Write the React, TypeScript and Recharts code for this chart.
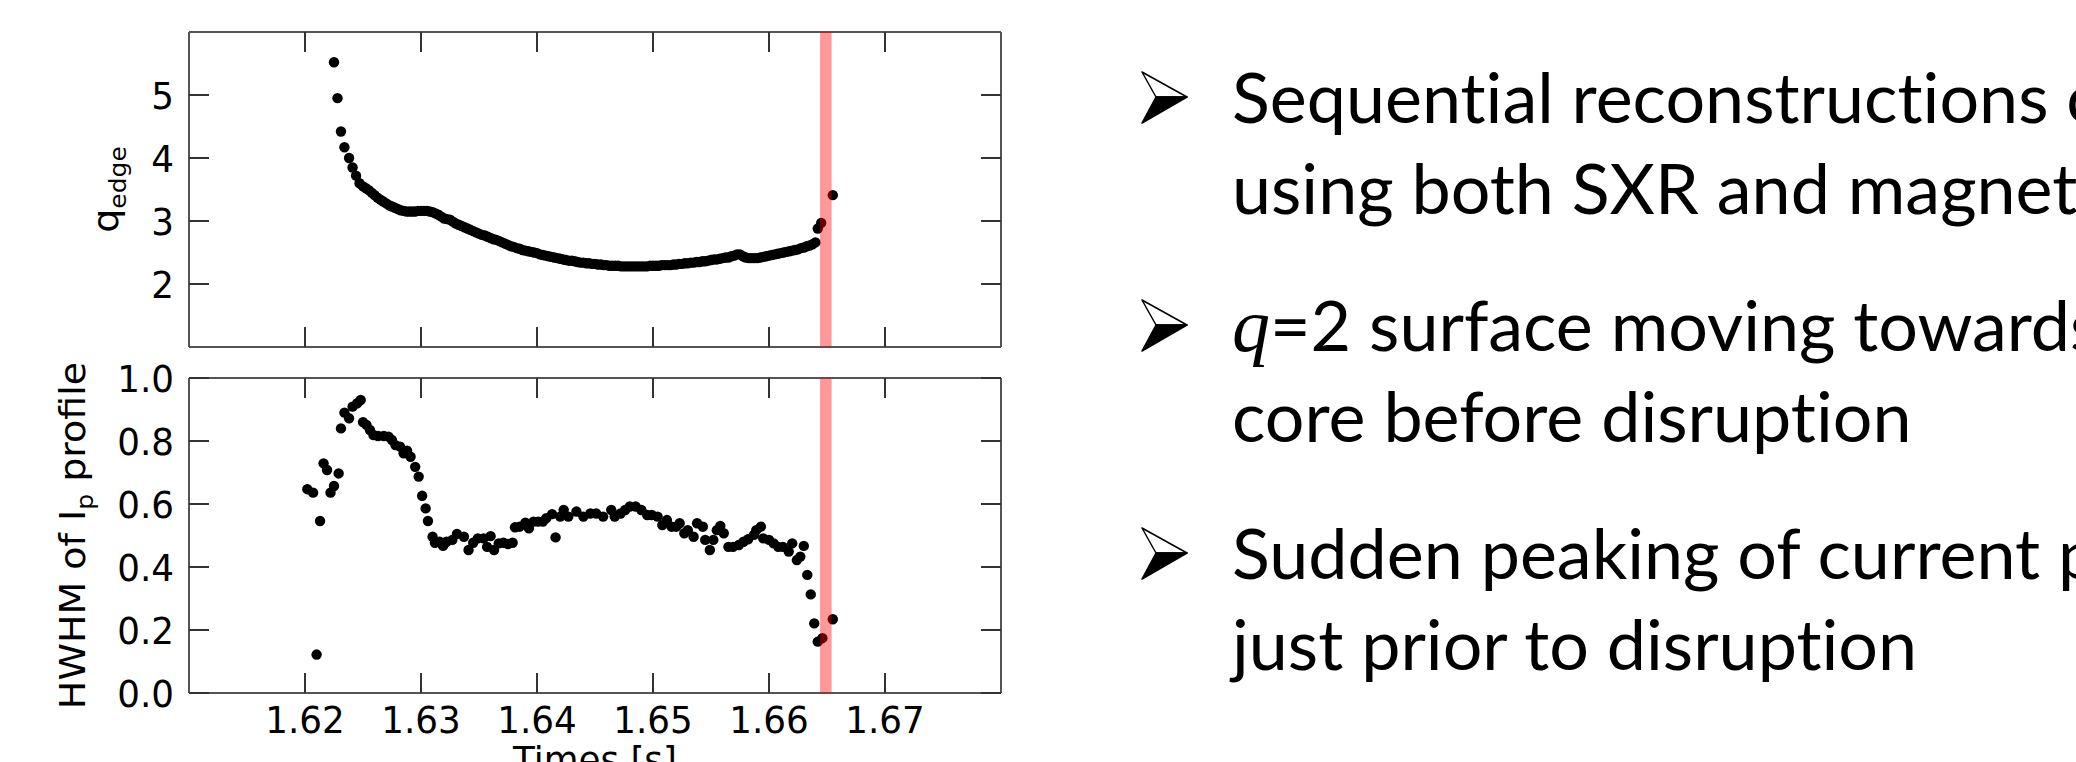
import { ScatterChart, Scatter, XAxis, YAxis, ReferenceArea } from 'recharts'

// time axis and tick values
const timeDomain = [1.61, 1.68]
const timeTicks = [1.62, 1.63, 1.64, 1.65, 1.66, 1.67]
const qTicks = [2, 3, 4, 5]
const hwhmTicks = [0, 0.2, 0.4, 0.6, 0.8, 1.0]
const disruptionWindow = [1.6644, 1.6654]

// q_edge from sequential reconstructions
const qTimes = [
  1.6225, 1.6228, 1.6231, 1.6234, 1.6238, 1.6241, 1.6244, 1.6247,
  1.625, 1.62525, 1.6255, 1.62575, 1.626, 1.62625, 1.6265, 1.62675, 1.627, 1.62725,
  1.6275, 1.62775, 1.628, 1.62825, 1.6285, 1.62875, 1.629, 1.62925, 1.6295, 1.62975,
  1.63, 1.63025, 1.6305, 1.63075, 1.631, 1.63125, 1.6315, 1.63175, 1.632, 1.63225,
  1.6325, 1.63275, 1.633, 1.63325, 1.6335, 1.63375, 1.634, 1.63425, 1.6345, 1.63475,
  1.635, 1.63525, 1.6355, 1.63575, 1.636, 1.63625, 1.6365, 1.63675, 1.637, 1.63725,
  1.6375, 1.63775, 1.638, 1.63825, 1.6385, 1.63875, 1.639, 1.63925, 1.6395, 1.63975,
  1.64, 1.64025, 1.6405, 1.64075, 1.641, 1.64125, 1.6415, 1.64175, 1.642, 1.64225,
  1.6425, 1.64275, 1.643, 1.64325, 1.6435, 1.64375, 1.644, 1.64425, 1.6445, 1.64475,
  1.645, 1.64525, 1.6455, 1.64575, 1.646, 1.64625, 1.6465, 1.64675, 1.647, 1.64725,
  1.6475, 1.64775, 1.648, 1.64825, 1.6485, 1.64875, 1.649, 1.64925, 1.6495, 1.64975,
  1.65, 1.65025, 1.6505, 1.65075, 1.651, 1.65125, 1.6515, 1.65175, 1.652, 1.65225,
  1.6525, 1.65275, 1.653, 1.65325, 1.6535, 1.65375, 1.654, 1.65425, 1.6545, 1.65475,
  1.655, 1.65525, 1.6555, 1.65575, 1.656, 1.65625, 1.6565, 1.65675, 1.657, 1.65725,
  1.6575, 1.65775, 1.658, 1.65825, 1.6585, 1.65875, 1.659, 1.65925, 1.6595, 1.65975,
  1.66, 1.66025, 1.6605, 1.66075, 1.661, 1.66125, 1.6615, 1.66175, 1.662, 1.66225,
  1.6625, 1.66275, 1.663, 1.66325, 1.6635, 1.66375, 1.664,
  1.6642, 1.6645, 1.6655,
]
const qValues = [
  5.52, 4.95, 4.42, 4.17, 4.0, 3.85, 3.72, 3.6,
  3.55, 3.52, 3.49, 3.45, 3.41, 3.37, 3.34, 3.31, 3.28, 3.25,
  3.23, 3.21, 3.19, 3.17, 3.16, 3.15, 3.15, 3.15, 3.15, 3.16,
  3.16, 3.16, 3.16, 3.15, 3.14, 3.12, 3.1, 3.07, 3.04, 3.03,
  3.02, 2.99, 2.96, 2.94, 2.92, 2.9, 2.88, 2.86, 2.84, 2.82,
  2.8, 2.78, 2.77, 2.75, 2.73, 2.71, 2.7, 2.68, 2.66, 2.64,
  2.62, 2.6, 2.59, 2.57, 2.56, 2.54, 2.53, 2.52, 2.51, 2.5,
  2.49, 2.47, 2.46, 2.45, 2.44, 2.43, 2.42, 2.41, 2.4, 2.39,
  2.38, 2.37, 2.37, 2.36, 2.35, 2.34, 2.34, 2.33, 2.33, 2.32,
  2.32, 2.31, 2.31, 2.3, 2.3, 2.29, 2.29, 2.29, 2.29, 2.28,
  2.28, 2.28, 2.28, 2.28, 2.28, 2.28, 2.28, 2.28, 2.28, 2.29,
  2.29, 2.29, 2.29, 2.3, 2.3, 2.3, 2.3, 2.31, 2.31, 2.32,
  2.32, 2.33, 2.33, 2.34, 2.34, 2.35, 2.35, 2.36, 2.36, 2.37,
  2.38, 2.39, 2.39, 2.4, 2.41, 2.42, 2.42, 2.44, 2.45, 2.47,
  2.47, 2.44, 2.42, 2.41, 2.41, 2.41, 2.41, 2.42, 2.43, 2.44,
  2.45, 2.46, 2.47, 2.48, 2.49, 2.5, 2.51, 2.52, 2.53, 2.54,
  2.55, 2.57, 2.58, 2.6, 2.61, 2.63, 2.66,
  2.88, 2.97, 3.41,
]

// half width at half maximum of the current profile
const hwhmTimes = [
  1.6202, 1.6207, 1.621, 1.6213, 1.6216, 1.6219, 1.6222, 1.6225, 1.6229, 1.6231,
  1.6234, 1.6238, 1.6241, 1.6245, 1.6248, 1.625, 1.6253, 1.6256, 1.6259, 1.6263,
  1.6268, 1.6272, 1.6275, 1.6278, 1.6282, 1.6285, 1.6288, 1.6291, 1.6295, 1.6298,
  1.6301, 1.6304, 1.6306, 1.631, 1.6312, 1.6316, 1.6319, 1.6322, 1.6327, 1.6331,
  1.6337, 1.6341, 1.6345, 1.6349, 1.6354, 1.6357, 1.636, 1.6363, 1.6367, 1.6371,
  1.6375, 1.6379, 1.6381, 1.6385, 1.639, 1.6393, 1.6397, 1.6401, 1.6405, 1.6408,
  1.6413, 1.6416, 1.642, 1.6423, 1.6427, 1.6434, 1.644, 1.6446, 1.6451, 1.6457,
  1.6464, 1.6467, 1.6472, 1.6476, 1.648, 1.6485, 1.649, 1.6495, 1.6499, 1.6504,
  1.6508, 1.6512, 1.6516, 1.652, 1.6523, 1.6527, 1.653, 1.6535, 1.6538, 1.6543,
  1.6545, 1.6549, 1.6552, 1.6555, 1.6558, 1.6561, 1.6565, 1.6569, 1.6574, 1.6578,
  1.6582, 1.6587, 1.6589, 1.6593, 1.6595, 1.66, 1.6604, 1.6608, 1.6612, 1.6617,
  1.662, 1.6624, 1.6627, 1.663, 1.6633, 1.6636, 1.6639, 1.6642, 1.6646, 1.6655,
]
const hwhmValues = [
  0.647, 0.636, 0.122, 0.546, 0.729, 0.708, 0.636, 0.657, 0.697, 0.84,
  0.89, 0.872, 0.909, 0.92, 0.93, 0.86, 0.851, 0.835, 0.819, 0.816,
  0.816, 0.814, 0.803, 0.787, 0.782, 0.761, 0.769, 0.75, 0.718, 0.687,
  0.626, 0.586, 0.546, 0.496, 0.477, 0.48, 0.467, 0.48, 0.486, 0.505,
  0.496, 0.454, 0.477, 0.491, 0.491, 0.464, 0.498, 0.454, 0.475, 0.477,
  0.473, 0.477, 0.526, 0.528, 0.541, 0.523, 0.544, 0.544, 0.544, 0.555,
  0.568, 0.494, 0.56, 0.581, 0.56, 0.576, 0.56, 0.57, 0.57, 0.56,
  0.581, 0.56, 0.57, 0.581, 0.592, 0.592, 0.581, 0.565, 0.565, 0.56,
  0.533, 0.549, 0.528, 0.528, 0.539, 0.507, 0.517, 0.496, 0.539, 0.528,
  0.486, 0.454, 0.486, 0.517, 0.53, 0.507, 0.464, 0.464, 0.47, 0.48,
  0.488, 0.502, 0.517, 0.528, 0.491, 0.486, 0.475, 0.464, 0.464, 0.449,
  0.475, 0.422, 0.433, 0.467, 0.375, 0.313, 0.221, 0.163, 0.174, 0.234,
]

const bulletLines = [
  ['Sequential reconstructions o', 'using both SXR and magneti'],
  ['q=2 surface moving towards', 'core before disruption'],
  ['Sudden peaking of current p', 'just prior to disruption'],
]

const qData = qTimes.map((t, i) => ({ t, v: qValues[i] }))
const hwhmData = hwhmTimes.map((t, i) => ({ t, v: hwhmValues[i] }))

const FONT = 'DejaVu Sans'
const SQUEEZE = 0.94
const axisStyle = { stroke: '#555', strokeWidth: 2 }
const tickStyle = { stroke: '#333', strokeWidth: 2 }

const noTick = () => <g />

const XTick = (props: any) => (
  <text
    transform={`translate(${props.x},${props.y}) scale(${SQUEEZE},1)`}
    textAnchor="middle"
    fontFamily={FONT}
    fontSize={38}
    fill="#000"
  >
    {Number(props.payload.value).toFixed(2)}
  </text>
)

const makeYTick = (digits: number) => (props: any) => (
  <text
    transform={`translate(${props.x},${props.y + 14}) scale(${SQUEEZE},1)`}
    textAnchor="end"
    fontFamily={FONT}
    fontSize={38}
    fill="#000"
  >
    {Number(props.payload.value).toFixed(digits)}
  </text>
)

const qLabel = (props: any) => {
  const vb = props.viewBox || { y: 32, height: 315 }
  const cy = vb.y + vb.height / 2
  return (
    <text transform={`translate(118,${cy}) scale(${SQUEEZE},1) rotate(-90)`} textAnchor="middle" fontFamily={FONT} fontSize={38} fill="#000">
      q<tspan fontSize={25} dy={8}>edge</tspan>
    </text>
  )
}

const hwhmLabel = (props: any) => {
  const vb = props.viewBox || { y: 32, height: 315 }
  const cy = vb.y + vb.height / 2
  return (
    <text transform={`translate(85,${cy}) scale(${SQUEEZE},1) rotate(-90)`} textAnchor="middle" fontFamily={FONT} fontSize={38} fill="#000">
      HWHM of I<tspan fontSize={25} dy={8}>p</tspan>
      <tspan dy={-8}> profile</tspan>
    </text>
  )
}

const timeLabel = (props: any) => {
  const vb = props.viewBox || { x: 189, y: 347, width: 812 }
  return (
    <text transform={`translate(${vb.x + vb.width / 2},${vb.y + 80}) scale(${SQUEEZE},1)`} textAnchor="middle" fontFamily={FONT} fontSize={38} fill="#000">
      Times [s]
    </text>
  )
}

const Dot = (props: any) => <circle cx={props.cx} cy={props.cy} r={5.2} fill="#000" />

function Arrow({ y }: { y: number }) {
  return (
    <g>
      <polygon points={`1142,${y - 51} 1187,${y - 26} 1156,${y - 26}`} fill="#fff" stroke="#000" strokeWidth={1.5} strokeLinejoin="round" />
      <polygon points={`1156,${y - 26} 1187,${y - 26} 1142,${y}`} fill="#000" stroke="#000" strokeWidth={1.5} strokeLinejoin="round" />
    </g>
  )
}

function BulletText() {
  return (
    <svg width={2076} height={762} style={{ position: 'absolute', left: 0, top: 0 }}>
      {bulletLines.map((lines, b) => {
        const base = 123 + b * 228
        return (
          <g key={b}>
            <Arrow y={base} />
            {lines.map((line, i) => (
              <text
                key={i}
                x={1232}
                y={base + i * 91}
                fontFamily="Lato"
                fontSize={70}
                fill="#000"
                style={{ fontVariantLigatures: 'none', fontFeatureSettings: '"liga" 0, "clig" 0' }}
              >
                {line.startsWith('q=') ? (
                  <>
                    <tspan fontFamily="Liberation Serif" fontStyle="italic" fontSize={76}>q</tspan>
                    {line.slice(1)}
                  </>
                ) : (
                  line
                )}
              </text>
            ))}
          </g>
        )
      })}
    </svg>
  )
}

export default function App() {
  return (
    <div style={{ position: 'absolute', left: 0, top: 0, width: 2076, height: 762, overflow: 'hidden', background: '#fff' }}>
      <div style={{ position: 'absolute', left: 0, top: 0 }}>
        <ScatterChart width={1020} height={362} margin={{ top: 31, right: 18, bottom: 0, left: 0 }}>
          <XAxis xAxisId="b" type="number" dataKey="t" domain={timeDomain} ticks={timeTicks} interval={0} allowDataOverflow height={15} tickSize={-20} tick={noTick} axisLine={axisStyle} tickLine={tickStyle} />
          <XAxis xAxisId="t" orientation="top" type="number" dataKey="t" domain={timeDomain} ticks={timeTicks} interval={0} allowDataOverflow height={1} tickSize={-20} tick={noTick} axisLine={axisStyle} tickLine={tickStyle} />
          <YAxis yAxisId="l" type="number" dataKey="v" domain={[1, 6]} ticks={qTicks} interval={0} allowDataOverflow width={189} tickSize={-20} tickMargin={35} tick={makeYTick(0)} axisLine={axisStyle} tickLine={tickStyle} label={qLabel} />
          <YAxis yAxisId="r" orientation="right" type="number" dataKey="v" domain={[1, 6]} ticks={qTicks} interval={0} allowDataOverflow width={1} tickSize={-20} tick={noTick} axisLine={axisStyle} tickLine={tickStyle} />
          <Scatter xAxisId="b" yAxisId="l" data={qData} shape={Dot} isAnimationActive={false} />
          <Scatter xAxisId="t" yAxisId="r" data={[]} isAnimationActive={false} />
          <ReferenceArea xAxisId="b" yAxisId="l" x1={disruptionWindow[0]} x2={disruptionWindow[1]} fill="#ff0000" fillOpacity={0.4} stroke="none" zIndex={700} />
        </ScatterChart>
      </div>
      <div style={{ position: 'absolute', left: 0, top: 346 }}>
        <ScatterChart width={1020} height={416} margin={{ top: 31, right: 18, bottom: 0, left: 0 }}>
          <XAxis xAxisId="b" type="number" dataKey="t" domain={timeDomain} ticks={timeTicks} interval={0} allowDataOverflow height={69} tickSize={-20} tickMargin={60} tick={XTick} axisLine={axisStyle} tickLine={tickStyle} label={timeLabel} />
          <XAxis xAxisId="t" orientation="top" type="number" dataKey="t" domain={timeDomain} ticks={timeTicks} interval={0} allowDataOverflow height={1} tickSize={-20} tick={noTick} axisLine={axisStyle} tickLine={tickStyle} />
          <YAxis yAxisId="l" type="number" dataKey="v" domain={[0, 1]} ticks={hwhmTicks} interval={0} allowDataOverflow width={189} tickSize={-20} tickMargin={35} tick={makeYTick(1)} axisLine={axisStyle} tickLine={tickStyle} label={hwhmLabel} />
          <YAxis yAxisId="r" orientation="right" type="number" dataKey="v" domain={[0, 1]} ticks={hwhmTicks} interval={0} allowDataOverflow width={1} tickSize={-20} tick={noTick} axisLine={axisStyle} tickLine={tickStyle} />
          <Scatter xAxisId="b" yAxisId="l" data={hwhmData} shape={Dot} isAnimationActive={false} />
          <Scatter xAxisId="t" yAxisId="r" data={[]} isAnimationActive={false} />
          <ReferenceArea xAxisId="b" yAxisId="l" x1={disruptionWindow[0]} x2={disruptionWindow[1]} fill="#ff0000" fillOpacity={0.4} stroke="none" zIndex={700} />
        </ScatterChart>
      </div>
      <BulletText />
    </div>
  )
}
